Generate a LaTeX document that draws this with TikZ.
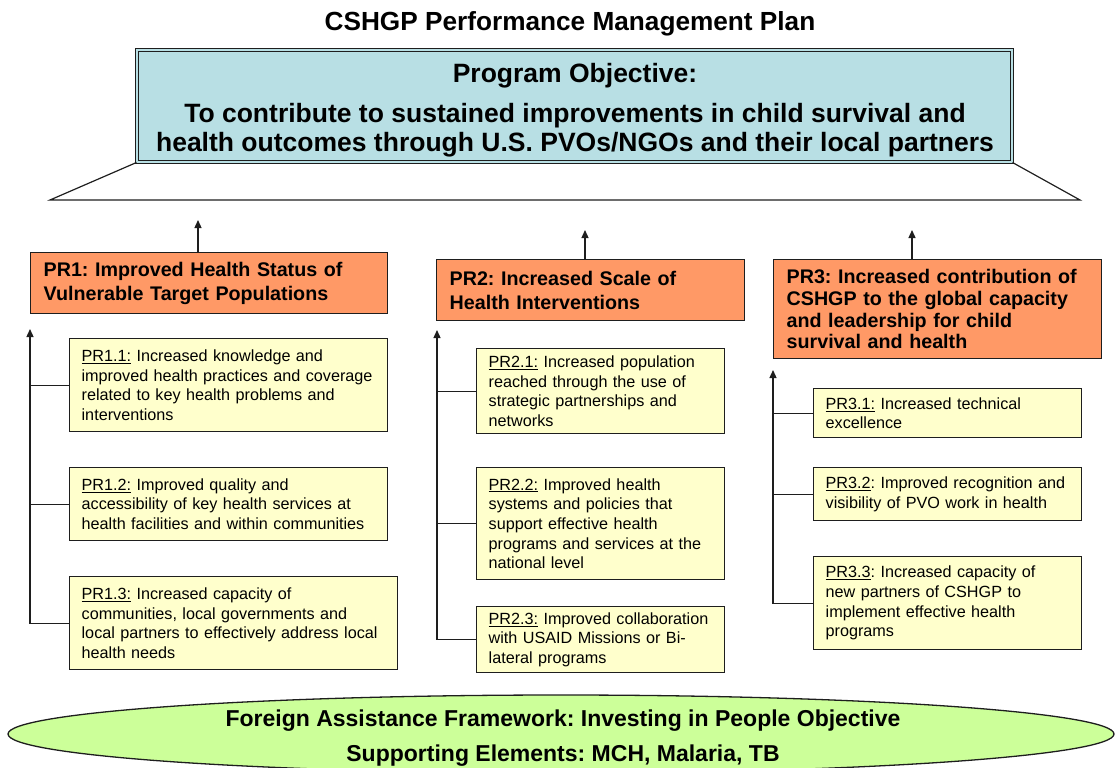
\documentclass[tikz,border=0pt]{standalone}
\usepackage{fontspec}
\setmainfont{Liberation Sans}
\usetikzlibrary{arrows.meta,shapes.geometric}
\definecolor{objblue}{RGB}{184,223,228}
\definecolor{prorange}{RGB}{255,153,102}
\definecolor{subyellow}{RGB}{255,255,204}
\definecolor{fafgreen}{RGB}{204,255,153}
\definecolor{edge}{RGB}{30,30,30}
\frenchspacing
\begin{document}
\begin{tikzpicture}[x=1pt,y=-1pt,
  conn/.style={draw=edge,line width=1.3pt},
  arr/.style={conn,-{Triangle[length=8pt,width=7pt]}},
  titletext/.style={font=\bfseries\fontsize{26.2}{30}\selectfont,anchor=base,inner sep=0pt},
  objbox/.style={rectangle,draw=edge,line width=1pt,double=objblue,double distance=2pt,fill=objblue,minimum width=875pt,minimum height=112pt,inner sep=0pt},
  objtext/.style={font=\bfseries\fontsize{26.5}{29.5}\selectfont,align=center,inner sep=0pt},
  prbox/.style={rectangle,draw=edge,line width=1.3pt,fill=prorange,anchor=north west,inner xsep=13pt,inner ysep=1pt,align=left,font=\bfseries\fontsize{19.7}{24}\selectfont},
  subbox/.style={rectangle,draw=edge,line width=1.3pt,fill=subyellow,anchor=north west,inner xsep=12pt,inner ysep=1pt,align=left,font=\fontsize{16.2}{19.6}\selectfont},
  fafshape/.style={ellipse,draw=edge,line width=1.3pt,fill=fafgreen,minimum width=1106pt,minimum height=78pt,inner sep=0pt},
  faftext/.style={font=\bfseries\fontsize{23}{35.5}\selectfont,align=center,inner sep=0pt}
]
\useasboundingbox (0,0) rectangle (1116,768);

% title
\node[titletext] (title) at (570,30.7) {CSHGP Performance Management Plan};

% program objective
\node[objbox] (obj) at (574.5,106) {};
\node[objtext] (objtxt) at (575,110) {Program Objective:\\[10.5pt]To contribute to sustained improvements in child survival and\\health outcomes through U.S. PVOs/NGOs and their local partners};
\coordinate (tl) at (50,200);
\coordinate (tr) at (1080,200);
\draw[conn,line width=1.2pt] (obj.south west) -- (tl) -- (tr) -- (obj.south east);

% PR boxes
\node[prbox,minimum width=357pt,minimum height=61pt,text width=331pt] (pr1) at (30,252) {PR1: Improved Health Status of\\Vulnerable Target Populations};
\node[prbox,minimum width=308pt,minimum height=61pt,text width=282pt] (pr2) at (436,259) {PR2: Increased Scale of\\Health Interventions};
\node[prbox,minimum width=328pt,minimum height=99pt,text width=302pt,font=\bfseries\fontsize{19.7}{21.7}\selectfont] (pr3) at (773,259) {PR3: Increased contribution of\\CSHGP to the global capacity\\and leadership for child\\survival and health};

\coordinate (t1) at (198,220);
\coordinate (t2) at (585,230);
\coordinate (t3) at (912,230);
\draw[arr] (t1 |- pr1.north) -- (t1);
\draw[arr] (t2 |- pr2.north) -- (t2);
\draw[arr] (t3 |- pr3.north) -- (t3);

% PR1 sub results
\node[subbox,minimum width=318pt,minimum height=93pt,text width=294pt] (pr11) at (69,338) {\underline{PR1.1:} Increased knowledge and\\improved health practices and coverage\\related to key health problems and\\interventions};
\node[subbox,minimum width=318pt,minimum height=73pt,text width=294pt] (pr12) at (69,467) {\underline{PR1.2:} Improved quality and\\accessibility of key health services at\\health facilities and within communities};
\node[subbox,minimum width=328pt,minimum height=93pt,text width=304pt] (pr13) at (69,576) {\underline{PR1.3:} Increased capacity of\\communities, local governments and\\local partners to effectively address local\\health needs};

% PR2 sub results
\node[subbox,minimum width=248pt,minimum height=85pt,text width=224pt] (pr21) at (476,348) {\underline{PR2.1:} Increased population\\reached through the use of\\strategic partnerships and\\networks};
\node[subbox,minimum width=248pt,minimum height=112pt,text width=224pt] (pr22) at (476,467) {\underline{PR2.2:} Improved health\\systems and policies that\\support effective health\\programs and services at the\\national level};
\node[subbox,minimum width=248pt,minimum height=66pt,text width=224pt] (pr23) at (476,606) {\underline{PR2.3:} Improved collaboration\\with USAID Missions or Bi-\\lateral programs};

% PR3 sub results
\node[subbox,minimum width=268pt,minimum height=49pt,text width=244pt] (pr31) at (813,388) {\underline{PR3.1:} Increased technical\\excellence};
\node[subbox,minimum width=268pt,minimum height=53pt,text width=244pt] (pr32) at (813,467) {\underline{PR3.2}: Improved recognition and\\visibility of PVO work in health};
\node[subbox,minimum width=268pt,minimum height=93pt,text width=244pt] (pr33) at (813,556) {\underline{PR3.3}: Increased capacity of\\new partners of CSHGP to\\implement effective health\\programs};

% vertical connectors
\coordinate (v1) at (30,329);
\coordinate (v2) at (437,330);
\coordinate (v3) at (773,370);
\draw[arr] (pr13.west) -| (v1);
\draw[conn] (pr11.west) -- (pr11.west -| v1);
\draw[conn] (pr12.west) -- (pr12.west -| v1);
\draw[arr] (pr23.west) -| (v2);
\draw[conn] (pr21.west) -- (pr21.west -| v2);
\draw[conn] (pr22.west) -- (pr22.west -| v2);
\draw[arr] (pr33.west) -| (v3);
\draw[conn] (pr31.west) -- (pr31.west -| v3);
\draw[conn] (pr32.west) -- (pr32.west -| v3);

% foreign assistance framework
\node[fafshape] (faf) at (561,734) {};
\node[faftext] (faftxt) at (563,738) {Foreign Assistance Framework: Investing in People Objective\\Supporting Elements: MCH, Malaria, TB};
\end{tikzpicture}
\end{document}
